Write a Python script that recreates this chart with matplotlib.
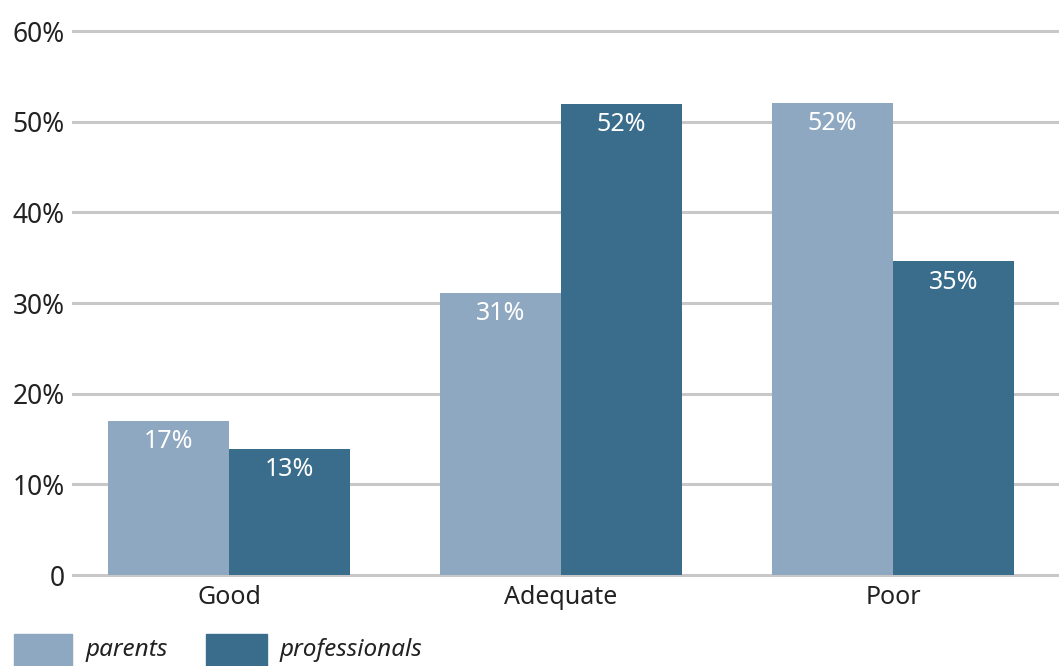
import matplotlib
matplotlib.use("Agg")
import matplotlib.pyplot as plt
from matplotlib.patches import Rectangle
import numpy as np

categories = ["Good", "Adequate", "Poor"]
parents = [17.0, 31.1, 52.1]
professionals = [13.9, 52.0, 34.6]
parents_labels = ["17%", "31%", "52%"]
professionals_labels = ["13%", "52%", "35%"]
yticks = [0, 10, 20, 30, 40, 50, 60]
ytick_labels = ["0", "10%", "20%", "30%", "40%", "50%", "60%"]
series_names = ["parents", "professionals"]

c_par = "#8fa8c1"
c_pro = "#3a6d8c"
plt.rcParams['font.family'] = ['Noto Sans', 'DejaVu Sans']

fig = plt.figure(figsize=(10.59, 6.66), dpi=100)
ax = fig.add_axes([73/1059, 1-575/666, 1-73/1059, (575-31)/666])

x = np.arange(len(categories))
w = 0.365
b1 = ax.bar(x - w/2, parents, w, color=c_par, zorder=3)
b2 = ax.bar(x + w/2, professionals, w, color=c_pro, zorder=3)
for bars, labs in ((b1, parents_labels), (b2, professionals_labels)):
    for r, lab in zip(bars, labs):
        ax.annotate(lab, (r.get_x() + r.get_width()/2, r.get_height()),
                    xytext=(0, -6), textcoords="offset points",
                    ha="center", va="top", color="white", fontsize=18, zorder=4)

ax.set_xlim(-0.47, 2.5)
ax.set_ylim(0, 60)
ax.set_yticks(yticks)
ax.set_yticklabels(ytick_labels, fontsize=19, color="#222222")
ax.set_xticks(x)
ax.set_xticklabels(categories, fontsize=18, color="#222222")
ax.tick_params(length=0, pad=6)
ax.tick_params(axis='x', pad=7)
ax.grid(axis='y', color="#c8c8c8", linewidth=2.2, zorder=0)
for gl in ax.get_ygridlines():
    gl.set_clip_on(False)
ax.set_axisbelow(True)
for s in ax.spines.values():
    s.set_visible(False)

# legend
for (x0, x1, tx), col, name in zip([(14, 72, 86), (206, 267, 280)], [c_par, c_pro], series_names):
    fig.patches.append(Rectangle((x0/1059, 0), (x1-x0)/1059, 32/666,
                                 transform=fig.transFigure, color=col))
    fig.text(tx/1059, 1-650/666, name, fontsize=17.5, style="italic",
             va="center", ha="left", color="#222222")

fig.savefig("out.png", dpi=100)
